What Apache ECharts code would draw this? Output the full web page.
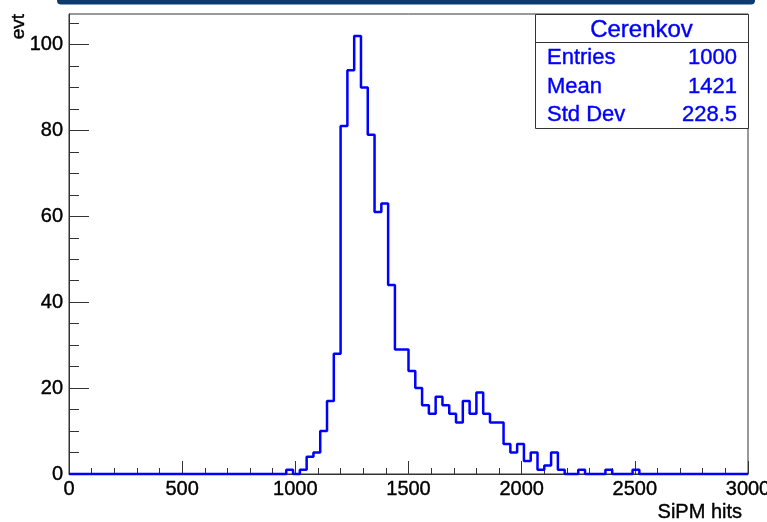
<!DOCTYPE html>
<html>
<head>
<meta charset="utf-8">
<script src="https://cdn.jsdelivr.net/npm/echarts@6/dist/echarts.min.js"></script>
<style>
  html, body { margin: 0; padding: 0; background: #ffffff; }
  #chart { width: 767px; height: 522px; }
</style>
</head>
<body>
<div id="chart"></div>
<script>
// Histogram "Cerenkov": 100 bins of 30 SiPM hits each, from 0 to 3000
const histName = 'Cerenkov';
const xMin = 0;
const xMax = 3000;
const binWidth = 30;
const counts = [
  0, 0, 0, 0, 0, 0, 0, 0, 0, 0,
  0, 0, 0, 0, 0, 0, 0, 0, 0, 0,
  0, 0, 0, 0, 0, 0, 0, 0, 0, 0,
  0, 0, 1, 0, 1, 4, 5, 10, 17, 28,
  81, 94, 102, 90, 79, 61, 63, 44, 29, 29,
  24, 20, 16, 14, 18, 16, 14, 12, 17, 14,
  19, 14, 12, 12, 7, 5, 7, 3, 5, 1,
  2, 5, 1, 0, 0, 1, 0, 0, 0, 1,
  0, 0, 0, 1, 0, 0, 0, 0, 0, 0,
  0, 0, 0, 0, 0, 0, 0, 0, 0, 0
];

// Axis ticks
const xTickStep = 500;
const yMajorTicks = [0, 20, 40, 60, 80, 100];
const yMinorTicks = [5, 10, 15, 25, 30, 35, 45, 50, 55, 65, 70, 75, 85, 90, 95, 105];

// Statistics box
const statLabels = ['Entries', 'Mean', 'Std Dev'];
const statValues = ['1000', '1421', '228.5'];

const xTitle = 'SiPM hits';
const yTitle = 'evt';

// ROOT-style headroom above the tallest bin
const yMax = Math.max(...counts) * 1.05;

// Step outline: each point is a bin's low edge and content, closed at xMax
const outline = counts.map((c, i) => [xMin + i * binWidth, c]);
outline.push([xMax, counts[counts.length - 1]]);

const FONT = '"Liberation Sans", Arial, Helvetica, sans-serif';
const AXIS_COLOR = '#333333';
const TICK_FONT = 20;
// a hairline outline in the text colour gives slightly heavier glyphs
const heavyLabel = color => ({ textBorderColor: color, textBorderWidth: 0.4 });
const heavyText = color => ({ stroke: color, lineWidth: 0.4 });

const G = { left: 69, top: 14, width: 679, height: 460 };
const box = { x: 535, y: G.top, w: G.left + G.width - 535, h: 114 };
const rowY = [58, 87, 115];

const chart = echarts.init(document.getElementById('chart'), null, { renderer: 'canvas' });

chart.setOption({
  animation: false,
  backgroundColor: '#ffffff',
  grid: {
    left: G.left, top: G.top, width: G.width, height: G.height,
    containLabel: false,
    outerBoundsMode: 'none',
    show: true, borderColor: AXIS_COLOR, borderWidth: 1, backgroundColor: 'transparent'
  },
  xAxis: {
    type: 'value',
    min: xMin, max: xMax, interval: xTickStep,
    axisLine: { show: true, onZero: false, lineStyle: { color: AXIS_COLOR, width: 1 } },
    axisTick: { show: true, inside: true, length: 13, lineStyle: { color: AXIS_COLOR } },
    minorTick: { show: true, splitNumber: 5, length: 6, lineStyle: { color: AXIS_COLOR } },
    axisLabel: Object.assign({
      fontSize: TICK_FONT, fontFamily: FONT, color: '#000000', margin: 5,
      formatter: v => String(v)
    }, heavyLabel('#000000')),
    splitLine: { show: false },
    minorSplitLine: { show: false }
  },
  yAxis: [
    {
      type: 'value',
      position: 'left',
      min: 0, max: yMax,
      axisLine: { show: true, lineStyle: { color: AXIS_COLOR, width: 1 } },
      axisTick: { show: true, inside: true, length: 20, customValues: yMajorTicks, lineStyle: { color: AXIS_COLOR } },
      axisLabel: Object.assign({
        customValues: yMajorTicks, fontSize: TICK_FONT, fontFamily: FONT, color: '#000000', margin: 6,
        formatter: v => String(v)
      }, heavyLabel('#000000')),
      splitLine: { show: false }
    },
    {
      type: 'value',
      position: 'left',
      offset: 0,
      min: 0, max: yMax,
      axisLine: { show: false },
      axisTick: { show: true, inside: true, length: 10, customValues: yMinorTicks, lineStyle: { color: AXIS_COLOR } },
      axisLabel: { show: false },
      splitLine: { show: false }
    }
  ],
  series: [{
    name: histName,
    type: 'line',
    step: 'end',
    data: outline,
    yAxisIndex: 0,
    showSymbol: false,
    clip: false,
    z: 5,
    lineStyle: { color: '#0000ff', width: 2.5 }
  }],
  graphic: [
    // dark band along the top edge
    {
      type: 'rect', z: 10,
      shape: { x: 57, y: -6, width: 698, height: 10.5, r: 4 },
      style: { fill: '#0d3b70' }
    },
    // axis titles
    {
      type: 'text', z: 10,
      x: 19, y: G.top, rotation: Math.PI / 2,
      style: Object.assign({ text: yTitle, fontSize: 19, fontFamily: FONT, fill: '#000000', align: 'right', verticalAlign: 'middle' }, heavyText('#000000'))
    },
    {
      type: 'text', z: 10,
      x: 742, y: 512,
      style: Object.assign({ text: xTitle, fontSize: 20, fontFamily: FONT, fill: '#000000', align: 'right', verticalAlign: 'middle' }, heavyText('#000000'))
    },
    // statistics box
    {
      type: 'group', z: 20,
      children: [
        {
          type: 'rect',
          shape: { x: box.x + 0.5, y: box.y + 0.5, width: box.w, height: box.h },
          style: { fill: '#ffffff', stroke: AXIS_COLOR, lineWidth: 1 }
        },
        {
          type: 'line',
          shape: { x1: box.x, y1: 42.5, x2: box.x + box.w, y2: 42.5 },
          style: { stroke: AXIS_COLOR, lineWidth: 1 }
        },
        {
          type: 'text',
          x: box.x + box.w / 2, y: 30,
          style: Object.assign({ text: histName, fontSize: 24, fontFamily: FONT, fill: '#0000ff', align: 'center', verticalAlign: 'middle' }, heavyText('#0000ff'))
        }
      ].concat(statLabels.map((lab, i) => ({
        type: 'text',
        x: 547, y: rowY[i],
        style: Object.assign({ text: lab, fontSize: 22, fontFamily: FONT, fill: '#0000ff', align: 'left', verticalAlign: 'middle' }, heavyText('#0000ff'))
      }))).concat(statValues.map((val, i) => ({
        type: 'text',
        x: 737, y: rowY[i],
        style: Object.assign({ text: val, fontSize: 22, fontFamily: FONT, fill: '#0000ff', align: 'right', verticalAlign: 'middle' }, heavyText('#0000ff'))
      })))
    }
  ]
});
</script>
</body>
</html>
